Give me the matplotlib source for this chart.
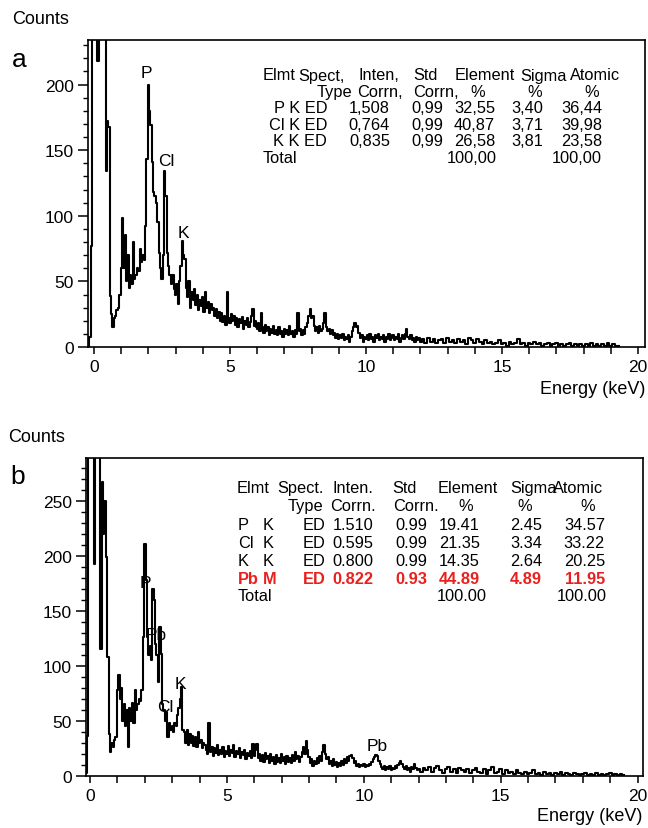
import numpy as np
import matplotlib
matplotlib.use("Agg")
import matplotlib.pyplot as plt
from matplotlib.ticker import MultipleLocator

plt.rcParams['font.family'] = ['Liberation Sans', 'DejaVu Sans']

# ---------------- data: panel a (P, Cl, K) ----------------
# counts; segments: (start keV, step keV, counts)
a_low = [0, 8, 77, 400, 900, 600, 500, 218, 500, 600, 800, 700, 300, 134, 172, 168,
         39, 25, 15, 22, 24, 28, 30, 40, 60, 98, 60, 85, 50, 70, 45, 55, 48, 80, 52,
         55, 60, 58, 75, 65, 70, 66, 92, 143, 200, 180, 169, 141, 118, 115, 110, 95,
         72, 60, 52, 70, 134, 115, 72, 62, 55, 48, 55, 44, 40, 48, 33, 50, 62, 81, 70,
         67, 45, 38, 50, 30, 42, 36, 44, 32, 40, 28, 36, 31, 38, 27, 42, 30, 34, 26,
         33, 28, 30, 24, 29, 22, 27, 20, 26, 19, 24, 17, 42, 22, 18, 25, 20, 24, 17,
         22, 15, 21, 18, 23, 14, 20, 17, 22, 15, 19, 24, 29, 16, 20, 15]
a_mid = [14, 18, 12, 26, 15, 11, 17, 12, 15, 9, 14, 11, 16, 10, 13, 9, 15, 10, 12, 8,
         14, 10, 13, 9, 16, 10, 12, 8, 13, 10, 26, 12, 14, 9, 13, 10, 15, 18, 24, 29,
         22, 24, 16, 12, 15, 11, 16, 12, 14, 18, 26, 15, 12, 14, 10, 13, 9, 11, 7, 10,
         6, 9, 7, 10, 5, 8, 6, 9, 4, 8, 12, 15, 18, 15, 16, 11, 7, 9, 4, 8,
         6, 9, 5, 10, 6, 8, 4, 9, 7, 10, 5, 8, 6, 9, 4, 8, 6, 10, 5, 7,
         9, 5, 8, 6, 10, 4, 7, 9, 6, 10, 14, 8, 6, 9, 5, 7, 4, 8, 5, 7]
a_high = [4, 6, 3, 7, 4, 6, 3, 5, 6, 3, 7, 4, 5, 3, 6, 4, 5, 2, 7, 5,
          3, 6, 4, 2, 5, 3, 4, 2, 3, 5, 2, 3, 1, 4, 2, 3, 6, 2, 3, 1,
          3, 2, 4, 2, 3, 1, 2, 3, 1, 2, 3, 1, 2, 1, 2, 3, 1, 2, 1, 2,
          1, 2, 1, 3, 1, 2, 1, 2, 1, 3, 1, 2, 1, 1]
a_segments = [(-0.20, 0.05, a_low), (6.0, 0.05, a_mid), (12.0, 0.1, a_high)]

# ---------------- data: panel b (P, Cl, K, Pb) ----------------
b_low = [0, 3, 36, 400, 900, 700, 500, 193, 400, 600, 500, 400, 115, 267, 220, 250,
         199, 108, 38, 22, 30, 26, 33, 35, 78, 92, 70, 80, 50, 65, 45, 60, 26, 62, 50,
         66, 48, 78, 60, 65, 70, 68, 78, 126, 211, 178, 126, 110, 118, 105, 170, 160,
         120, 110, 85, 135, 111, 65, 60, 50, 58, 35, 48, 42, 45, 40, 48, 45, 55, 62,
         70, 81, 42, 40, 30, 42, 28, 38, 30, 36, 27, 35, 26, 40, 30, 33, 25, 30, 28,
         24, 20, 48, 22, 26, 18, 25, 21, 28, 19, 24, 20, 26, 17, 23, 20, 27, 18, 24,
         21, 28, 17, 23, 20, 25, 16, 22, 19, 24, 15, 21, 18, 23, 16, 29]
b_mid = [18, 24, 29, 16, 20, 14, 19, 13, 21, 15, 18, 12, 20, 14, 17, 11, 19, 13, 16, 12,
         20, 14, 17, 11, 18, 13, 16, 12, 19, 14, 22, 15, 18, 13, 17, 22, 26, 20, 32, 24,
         17, 12, 15, 9, 14, 11, 16, 12, 18, 14, 22, 28, 20, 15, 17, 11, 14, 9, 15, 10,
         13, 8, 12, 9, 14, 10, 15, 12, 17, 14, 18, 19, 16, 12, 14, 9, 11, 8, 10, 9,
         11, 8, 10, 9, 11, 10, 13, 15, 17, 19, 18, 14, 11, 8, 6, 9, 5, 8, 6, 9,
         5, 7, 6, 9, 7, 10, 12, 14, 11, 8, 6, 9, 5, 7, 4, 8, 6, 11, 7, 5]
b_high = [6, 4, 7, 5, 8, 4, 7, 9, 5, 3, 6, 8, 4, 6, 3, 7, 5, 4, 6, 3,
          5, 7, 4, 3, 6, 2, 5, 8, 3, 4, 6, 2, 5, 3, 4, 2, 5, 3, 2, 4,
          2, 3, 5, 2, 3, 1, 4, 2, 3, 1, 3, 2, 4, 1, 3, 2, 1, 3, 2, 1,
          2, 3, 1, 2, 1, 3, 1, 2, 1, 2, 3, 1, 2, 1, 2, 1]
b_segments = [(-0.20, 0.05, b_low), (6.0, 0.05, b_mid), (12.0, 0.1, b_high)]

# ---------------- tables ----------------
a_header1 = ["Elmt", "Spect,", "Inten,", "Std", "Element", "Sigma", "Atomic"]
a_header2 = ["Type", "Corrn,", "Corrn,", "%", "%", "%"]
a_rows = [["P K ED", "1,508", "0,99", "32,55", "3,40", "36,44"],
          ["Cl K ED", "0,764", "0,99", "40,87", "3,71", "39,98"],
          ["K K ED", "0,835", "0,99", "26,58", "3,81", "23,58"]]
a_total = ["Total", "100,00", "100,00"]

b_header1 = ["Elmt", "Spect.", "Inten.", "Std", "Element", "Sigma", "Atomic"]
b_header2 = ["Type", "Corrn.", "Corrn.", "%", "%", "%"]
b_rows = [["P", "K", "ED", "1.510", "0.99", "19.41", "2.45", "34.57"],
          ["Cl", "K", "ED", "0.595", "0.99", "21.35", "3.34", "33.22"],
          ["K", "K", "ED", "0.800", "0.99", "14.35", "2.64", "20.25"],
          ["Pb", "M", "ED", "0.822", "0.93", "44.89", "4.89", "11.95"]]
b_total = ["Total", "100.00", "100.00"]

a_peaks = ["P", "Cl", "K"]
b_peaks = ["P", "Pb", "K", "Cl", "Pb"]

W, H = 648, 829
fig = plt.figure(figsize=(W / 100, H / 100), dpi=100)


def fx(px):
    return px / W


def fy(py):
    return 1 - py / H


def txt(px, py, s, ha='left', size=11.5, **kw):
    fig.text(fx(px), fy(py), s, ha=ha, va='center', fontsize=size, **kw)


def make_axes(l, t, r, b):
    return fig.add_axes([fx(l), fy(b), fx(r) - fx(l), (b - t) / H])


def spectrum(ax, segments):
    e = np.concatenate([start + step * np.arange(len(v)) for start, step, v in segments])
    c = np.concatenate([np.array(v, float) for _, _, v in segments])
    ax.plot(e, c, color='black', lw=1.5, drawstyle='steps-mid')


def style(ax, xlim, ylim):
    ax.set_xlim(*xlim)
    ax.set_ylim(*ylim)
    ax.xaxis.set_major_locator(MultipleLocator(5))
    ax.xaxis.set_minor_locator(MultipleLocator(1))
    ax.yaxis.set_major_locator(MultipleLocator(50))
    ax.yaxis.set_minor_locator(MultipleLocator(10))
    for s in ax.spines.values():
        s.set_linewidth(1.2)
    ax.tick_params(axis='y', which='major', direction='out', length=7, width=1.1,
                   labelsize=12.5, pad=3)
    ax.tick_params(axis='y', which='minor', direction='out', length=3.5, width=1.0)
    ax.tick_params(axis='x', which='both', direction='out', length=5, width=1.1,
                   labelsize=12.5, pad=4)


TS = 11.8  # table font size

# ---------------- panel a ----------------
axa = make_axes(88, 41, 645, 348)
spectrum(axa, a_segments)
style(axa, (-0.22, 20.26), (0, 234))

txt(12, 20, "Counts", size=13)
txt(12, 60, "a", size=19)
txt(645, 390, "Energy (keV)", ha='right', size=13)
for s, (px, py) in zip(a_peaks, [(146, 74), (166, 162), (183, 234)]):
    txt(px, py, s, ha='center', size=12.5)

ya = [76, 92.5, 109, 125.5, 142, 158.5]
for s, px in zip(a_header1, [263, 298, 358, 413, 455, 520, 570]):
    txt(px, ya[0], s, size=TS)
for s, px, ha in zip(a_header2, [317, 357, 413, 478, 535, 592],
                     ['left', 'left', 'left', 'center', 'center', 'center']):
    txt(px, ya[1], s, ha=ha, size=TS)
for i, row in enumerate(a_rows):
    y = ya[2 + i]
    txt(327, y, row[0], ha='right', size=TS)
    for s, px in zip(row[1:], [390, 443, 495, 543, 602]):
        txt(px, y, s, ha='right', size=TS)
txt(263, ya[5], a_total[0], size=TS)
txt(497, ya[5], a_total[1], ha='right', size=TS)
txt(602, ya[5], a_total[2], ha='right', size=TS)

# ---------------- panel b ----------------
axb = make_axes(86, 459, 643, 777)
spectrum(axb, b_segments)
style(axb, (-0.15, 20.2), (0, 289))

txt(8, 437, "Counts", size=13)
txt(10, 477, "b", size=19)
txt(642, 817, "Energy (keV)", ha='right', size=13)
for s, (px, py) in zip(b_peaks, [(145, 584), (156, 635), (180, 685), (165, 708), (377, 747)]):
    txt(px, py, s, ha='center', size=12.5)

yb = [489, 507, 526, 544, 562, 580, 597]
for s, px in zip(b_header1, [237, 277, 332, 392, 438, 510, 553]):
    txt(px, yb[0], s, size=TS)
for s, px, ha in zip(b_header2, [288, 330, 393, 466, 525, 588],
                     ['left', 'left', 'left', 'center', 'center', 'center']):
    txt(px, yb[1], s, ha=ha, size=TS)
red = '#e8201e'
for i, row in enumerate(b_rows):
    y = yb[2 + i]
    is_pb = row[0] == "Pb"
    kw = dict(color=red, fontweight='bold') if is_pb else dict(color='black')
    txt(238, y, row[0], size=TS, **kw)
    txt(263, y, row[1], size=TS, **kw)
    txt(303, y, row[2], size=TS, **kw)
    for s, px in zip(row[3:], [373, 427, 480, 542, 605]):
        txt(px, y, s, ha='right', size=TS, **kw)
txt(238, yb[6], b_total[0], size=TS)
txt(487, yb[6], b_total[1], ha='right', size=TS)
txt(607, yb[6], b_total[2], ha='right', size=TS)

fig.savefig("out.png", dpi=100)
